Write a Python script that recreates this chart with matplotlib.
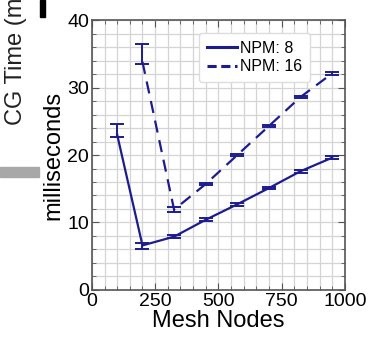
import matplotlib.pyplot as plt
from matplotlib.lines import Line2D
from matplotlib.ticker import MultipleLocator

plt.rcParams['font.family'] = ['Liberation Sans', 'DejaVu Sans']

# data
nodes8 = [100, 200, 325, 450, 575, 700, 825, 950]
time8 = [23.0, 6.6, 7.9, 10.4, 12.7, 15.1, 17.6, 19.6]
err8_lo = [0.3, 0.5, 0.2, 0.2, 0.2, 0.2, 0.2, 0.2]
err8_hi = [1.6, 0.4, 0.2, 0.2, 0.2, 0.2, 0.2, 0.2]

nodes16 = [200, 325, 450, 575, 700, 825, 950]
time16 = [33.8, 11.9, 15.7, 20.0, 24.3, 28.6, 32.1]
err16_lo = [0.3, 0.3, 0.2, 0.2, 0.2, 0.2, 0.2]
err16_hi = [2.6, 0.4, 0.2, 0.2, 0.2, 0.2, 0.2]

navy = '#1c1c8f'
dash = (0, (5.5, 3.5))

fig = plt.figure(figsize=(3.72, 3.46), dpi=100)
ax = fig.add_axes([0.247, 0.162, 0.68, 0.78])

ax.errorbar(nodes8, time8, yerr=[err8_lo, err8_hi], color=navy, lw=1.6,
            capsize=5, elinewidth=1.4, capthick=1.4)
ax.errorbar(nodes16, time16, yerr=[err16_lo, err16_hi], color=navy, lw=1.6,
            ls=dash, capsize=5, elinewidth=1.4, capthick=1.4)

ax.set_xlim(0, 1000)
ax.set_ylim(0, 40)
ax.xaxis.set_major_locator(MultipleLocator(250))
ax.xaxis.set_minor_locator(MultipleLocator(50))
ax.yaxis.set_major_locator(MultipleLocator(10))
ax.yaxis.set_minor_locator(MultipleLocator(2))
ax.grid(which='both', color='#d4d4d4', lw=0.9)
ax.set_axisbelow(True)
ax.tick_params(which='both', direction='in', top=True, right=True,
               color='#555555')
ax.tick_params(which='major', length=5, labelsize=14, pad=2)
ax.tick_params(which='minor', length=3)
for s in ax.spines.values():
    s.set_color('#555555')
    s.set_linewidth(1.2)

ax.set_xlabel('Mesh Nodes', fontsize=17, labelpad=0)
ax.set_ylabel('milliseconds', fontsize=17, labelpad=2)

handles = [Line2D([], [], color=navy, lw=2.2),
           Line2D([], [], color=navy, lw=2.2, ls=(0, (3, 1.5)))]
leg = ax.legend(handles, ['NPM: 8', 'NPM: 16'], loc='upper right',
                bbox_to_anchor=(0.895, 0.982), fontsize=11.5,
                handlelength=1.9, handletextpad=0.2, borderpad=0.5,
                labelspacing=0.2, fancybox=True, framealpha=1)
leg.get_frame().set_edgecolor('#dddddd')

# bits of the neighbouring figure that show in the screenshot
fig.text(0.043, 0.64, 'CG Time (ms)', rotation=90, fontsize=17,
         va='bottom', ha='center', color='#222222')
fig.patches.append(plt.Rectangle((0, 0.488), 0.105, 0.03, color='#a8a8a8',
                                 transform=fig.transFigure, figure=fig))
fig.patches.append(plt.Rectangle((0.108, 0.952), 0.013, 0.048, color='black',
                                 transform=fig.transFigure, figure=fig))

fig.savefig('out.png', dpi=100)
